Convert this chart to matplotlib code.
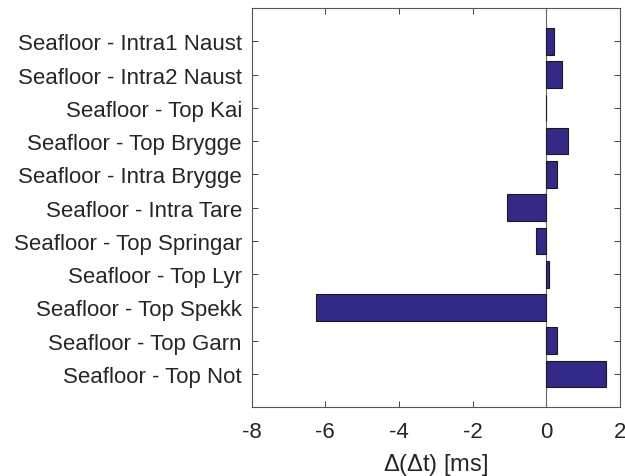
import matplotlib.pyplot as plt
import numpy as np

plt.rcParams['font.family'] = ['Liberation Sans', 'DejaVu Sans']
plt.rcParams['mathtext.fontset'] = 'custom'
plt.rcParams['mathtext.rm'] = 'Liberation Sans'

# 数据（自上而下的顺序）
labels = ['Seafloor - Intra1 Naust', 'Seafloor - Intra2 Naust', 'Seafloor - Top Kai',
          'Seafloor - Top Brygge', 'Seafloor - Intra Brygge', 'Seafloor - Intra Tare',
          'Seafloor - Top Springar', 'Seafloor - Top Lyr', 'Seafloor - Top Spekk',
          'Seafloor - Top Garn', 'Seafloor - Top Not']
values = [0.22, 0.42, 0.0, 0.60, 0.29, -1.07, -0.29, 0.06, -6.25, 0.28, 1.61]
xticks = [-8, -6, -4, -2, 0, 2]

fig = plt.figure(figsize=(6.25, 4.77), dpi=100)
ax = fig.add_axes([0.4027, 0.144, 0.5893, 0.837])

n = len(labels)
ypos = np.arange(n, 0, -1)
ax.barh(ypos, values, height=0.8, color='#332a87', edgecolor='#1a1a1a', linewidth=0.8, zorder=3)
ax.axvline(0, color='#666666', linewidth=0.8, zorder=2)

ax.set_xlim(-8, 2)
ax.set_ylim(0, n + 1)
ax.set_xticks(xticks)
ax.set_xticklabels([str(t) for t in xticks])
ax.set_yticks(ypos)
ax.set_yticklabels(labels)
ax.tick_params(direction='in', top=True, right=True, length=4, width=0.6,
               colors='#262626', labelsize=16)
ax.tick_params(axis='y', pad=7)
ax.tick_params(axis='x', pad=10)
for s in ax.spines.values():
    s.set_color('#555555')
    s.set_linewidth(0.8)
ax.set_xlabel(r'$\Delta$($\Delta$t) [ms]', fontsize=17, color='#262626', labelpad=6)

fig.savefig('out.png', dpi=100)
